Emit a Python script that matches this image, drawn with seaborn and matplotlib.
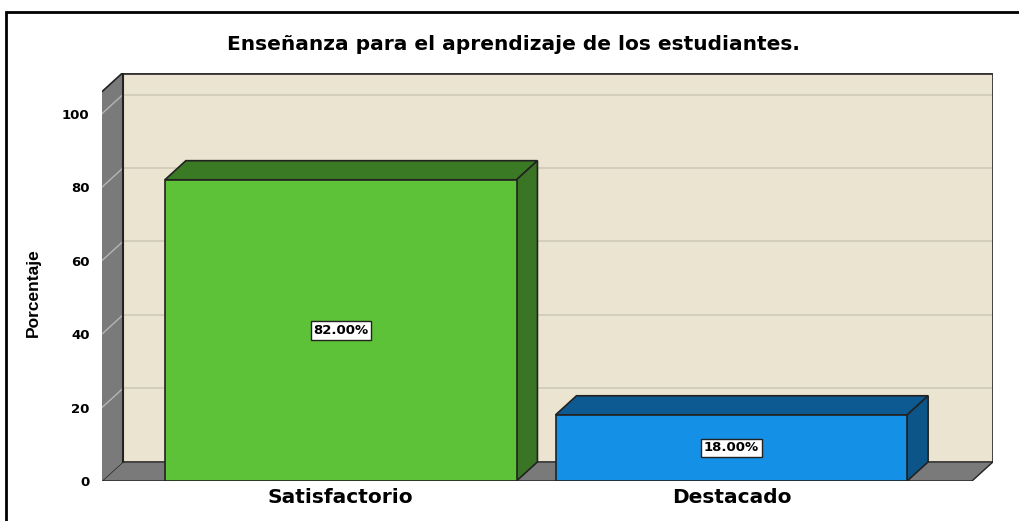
"""SPSS-style 3D bar chart: Enseñanza para el aprendizaje de los estudiantes."""

import matplotlib
matplotlib.use('Agg')
import matplotlib.pyplot as plt
from matplotlib.patches import Polygon, Rectangle
import seaborn as sns


# ---------------------------------------------------------------------------
# Data
# ---------------------------------------------------------------------------

categories = ['Satisfactorio', 'Destacado']
percentages = [82.0, 18.0]
bar_labels = ['82.00%', '18.00%']
y_ticks = [0, 20, 40, 60, 80, 100]

# ---------------------------------------------------------------------------
# Style
# ---------------------------------------------------------------------------

FRONT = ['#5DC238', '#1490E6']
TOP = ['#3B7A24', '#0D5A92']
SIDE = ['#3A7425', '#0B5589']
WALL = '#7A7A7A'
BACK = '#EAE4D0'
GRID = '#CFCAB9'
EDGE = '#222222'

sns.set_style('white')
plt.rcParams['font.family'] = ['DejaVu Sans']
plt.rcParams['text.color'] = 'black'
plt.rcParams['xtick.color'] = 'black'
plt.rcParams['ytick.color'] = 'black'
plt.rcParams['axes.labelcolor'] = 'black'

BAR_W = 0.9
DX, DY = 0.0536, 5.2          # depth offset (category units, percent units)
X0, X1 = -0.611, 1.616        # front floor extent
Y_TOP = 106.0                 # top of walls (front plane)

fig = plt.figure(figsize=(10.2, 5.21), dpi=100)
ax = fig.add_axes([0.1, 0.0768, 0.8735, 0.784])

# seaborn draws the front faces of the bars
sns.barplot(x=categories, y=percentages, hue=categories, palette=FRONT,
            width=BAR_W, edgecolor=EDGE, linewidth=1.2, legend=False,
            saturation=1, ax=ax)
for p in ax.patches:
    p.set_zorder(5)

# back wall + gridlines
ax.add_patch(Rectangle((X0 + DX, DY), X1 - X0, Y_TOP, facecolor=BACK,
                       edgecolor='none', zorder=0))
for t in y_ticks[1:]:
    ax.plot([X0 + DX, X1 + DX], [t + DY, t + DY], color=GRID, lw=1.2, zorder=1)
ax.plot([X0 + DX, X1 + DX, X1 + DX], [Y_TOP + DY, Y_TOP + DY, DY],
        color='#333333', lw=2, zorder=1, solid_capstyle='butt')

# floor
ax.add_patch(Polygon([(X0, 0), (X1, 0), (X1 + DX, DY), (X0 + DX, DY)],
                     facecolor=WALL, edgecolor=EDGE, lw=1, zorder=2))

# left wall
ax.add_patch(Polygon([(X0, 0), (X0 + DX, DY), (X0 + DX, Y_TOP + DY), (X0, Y_TOP)],
                     facecolor=WALL, edgecolor='none', zorder=2))
ax.plot([X0, X0 + DX], [Y_TOP, Y_TOP + DY], color=EDGE, lw=1.2, zorder=3)
for t in y_ticks[1:]:
    ax.plot([X0, X0 + DX], [t, t + DY], color='#B5B5B5', lw=1, zorder=3)
ax.plot([X0 + DX, X0 + DX], [DY, Y_TOP + DY], color=EDGE, lw=1.5, zorder=3)

# 3D sides of the bars and value labels
for i, v in enumerate(percentages):
    xl, xr = i - BAR_W / 2, i + BAR_W / 2
    ax.add_patch(Polygon([(xl, v), (xr, v), (xr + DX, v + DY), (xl + DX, v + DY)],
                         facecolor=TOP[i], edgecolor=EDGE, lw=1.2, zorder=4))
    ax.add_patch(Polygon([(xr, 0), (xr + DX, DY), (xr + DX, v + DY), (xr, v)],
                         facecolor=SIDE[i], edgecolor=EDGE, lw=1.2, zorder=4))
    ax.text(i, v / 2, bar_labels[i], ha='center', va='center', fontsize=9.5,
            fontweight='bold', zorder=6,
            bbox=dict(boxstyle='square,pad=0.2', facecolor='white',
                      edgecolor=EDGE, lw=1))

ax.set_xlim(X0, X1 + DX)
ax.set_ylim(0, Y_TOP + DY)
ax.set_yticks(y_ticks)
ax.set_yticklabels([str(t) for t in y_ticks], fontsize=9.5, fontweight='bold')
ax.set_xticks(range(len(categories)))
ax.set_xticklabels(categories, fontsize=14.5, fontweight='bold')
ax.tick_params(axis='y', length=0, pad=9)
ax.tick_params(axis='x', length=0, pad=5)
ax.set_xlabel('')
ax.set_ylabel('')
for s in ax.spines.values():
    s.set_visible(False)

fig.text(33 / 1020, 1 - 293 / 521, 'Porcentaje', rotation=90, ha='center',
         va='center', fontsize=12.5, fontweight='bold',
         family=['Liberation Sans Narrow', 'Liberation Sans', 'DejaVu Sans'])

fig.text(513.5 / 1020, 1 - 45 / 521, 'Enseñanza para el aprendizaje de los estudiantes.',
         ha='center', va='center', fontsize=14.5, fontweight='bold')

# outer frame
fig.patches.append(Rectangle((6 / 1020, -0.05), 1.1, 1 - 12 / 521 + 0.05,
                             transform=fig.transFigure, fill=False,
                             edgecolor='black', lw=2))

fig.savefig('out.png', dpi=100)
